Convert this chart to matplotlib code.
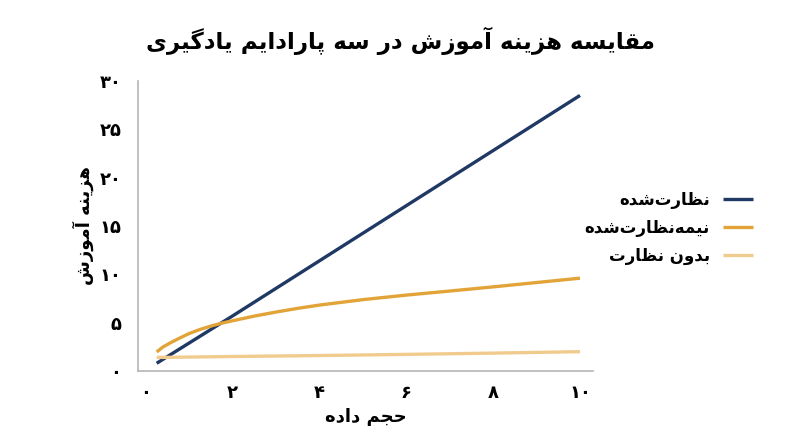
import matplotlib
matplotlib.use("Agg")
import matplotlib.pyplot as plt

# متن‌های نمودار
titulo = "مقایسه هزینه آموزش در سه پارادایم یادگیری"
etiqueta_x = "حجم داده"
etiqueta_y = "هزینه آموزش"
series_nombres = ["نظارت‌شده", "نیمه‌نظارت‌شده", "بدون نظارت"]

ticks_x = [0, 2, 4, 6, 8, 10]
ticks_x_lbl = ["۰", "۲", "۴", "۶", "۸", "۱۰"]
ticks_y = [0, 5, 10, 15, 20, 25, 30]
ticks_y_lbl = ["۰", "۵", "۱۰", "۱۵", "۲۰", "۲۵", "۳۰"]

# valores
x_sup = [0.25, 2, 4, 6, 8, 10]
y_sup = [0.8, 5.7, 11.4, 17.1, 22.8, 28.5]

x_semi = [0.25, 0.4, 0.6, 0.8, 1.0, 1.25, 1.5, 1.75, 2.0, 2.5, 3.0, 3.5, 4.0, 5.0, 6.0, 7.0, 8.0, 9.0, 10.0]
y_semi = [1.97, 2.5, 3.0, 3.45, 3.88, 4.3, 4.65, 4.95, 5.2, 5.68, 6.1, 6.48, 6.82, 7.38, 7.85, 8.27, 8.7, 9.15, 9.6]

x_nosup = [0.25, 2, 4, 6, 8, 10]
y_nosup = [1.4, 1.5, 1.6, 1.72, 1.85, 2.0]

colores = ["#1F3864", "#E2A438", "#F1CB8E"]

# formas de presentación árabes: aislada, final, inicial, media
FORMAS = {
    "\u0627": ("\uFE8D", "\uFE8E", None, None),
    "\u0622": ("\uFE81", "\uFE82", None, None),
    "\u0628": ("\uFE8F", "\uFE90", "\uFE91", "\uFE92"),
    "\u062A": ("\uFE95", "\uFE96", "\uFE97", "\uFE98"),
    "\u062C": ("\uFE9D", "\uFE9E", "\uFE9F", "\uFEA0"),
    "\u062D": ("\uFEA1", "\uFEA2", "\uFEA3", "\uFEA4"),
    "\u062F": ("\uFEA9", "\uFEAA", None, None),
    "\u0631": ("\uFEAD", "\uFEAE", None, None),
    "\u0632": ("\uFEAF", "\uFEB0", None, None),
    "\u0633": ("\uFEB1", "\uFEB2", "\uFEB3", "\uFEB4"),
    "\u0634": ("\uFEB5", "\uFEB6", "\uFEB7", "\uFEB8"),
    "\u0638": ("\uFEC5", "\uFEC6", "\uFEC7", "\uFEC8"),
    "\u0642": ("\uFED5", "\uFED6", "\uFED7", "\uFED8"),
    "\u0645": ("\uFEE1", "\uFEE2", "\uFEE3", "\uFEE4"),
    "\u0646": ("\uFEE5", "\uFEE6", "\uFEE7", "\uFEE8"),
    "\u0647": ("\uFEE9", "\uFEEA", "\uFEEB", "\uFEEC"),
    "\u0648": ("\uFEED", "\uFEEE", None, None),
    "\u06CC": ("\uFBFC", "\uFBFD", "\uFBFE", "\uFBFF"),
    "\u067E": ("\uFB56", "\uFB57", "\uFB58", "\uFB59"),
    "\u06AF": ("\uFB92", "\uFB93", "\uFB94", "\uFB95"),
}


def rtl(texto):
    # une las letras y devuelve el texto en orden visual
    salida = []
    for i, c in enumerate(texto):
        if c not in FORMAS:
            if c != "\u200C":
                salida.append(c)
            continue
        prev = texto[i - 1] if i > 0 else ""
        nxt = texto[i + 1] if i + 1 < len(texto) else ""
        une_prev = prev in FORMAS and FORMAS[prev][2] is not None
        une_next = nxt in FORMAS and FORMAS[c][2] is not None
        aisl, fin, ini, med = FORMAS[c]
        if une_prev and une_next:
            salida.append(med)
        elif une_prev:
            salida.append(fin)
        elif une_next:
            salida.append(ini)
        else:
            salida.append(aisl)
    return "".join(salida)[::-1]


plt.rcParams["font.family"] = ["DejaVu Sans"]

fig = plt.figure(figsize=(8, 4.47), dpi=100)
ax = fig.add_axes([0.1725, 0.170, 0.5688, 0.649])

series = [(x_sup, y_sup), (x_semi, y_semi), (x_nosup, y_nosup)]
for (xs, ys), nombre, col in zip(series, series_nombres, colores):
    ax.plot(xs, ys, color=col, lw=2.4, label=rtl(nombre), solid_capstyle="butt")

ax.set_xlim(-0.18, 10.3)
ax.set_ylim(0, 30)
ax.set_xticks(ticks_x)
ax.set_xticklabels(ticks_x_lbl, fontsize=13, fontweight="bold")
ax.set_yticks(ticks_y)
ax.set_yticklabels(ticks_y_lbl, fontsize=13, fontweight="bold")
ax.tick_params(length=0)
ax.tick_params(axis="x", pad=9)
ax.tick_params(axis="y", pad=12)

for lado in ["top", "right"]:
    ax.spines[lado].set_visible(False)
for lado in ["left", "bottom"]:
    ax.spines[lado].set_color("#B5B5B5")
    ax.spines[lado].set_linewidth(1.2)

ax.set_xlabel(rtl(etiqueta_x), fontsize=13, fontweight="bold", labelpad=5)
ax.set_ylabel(rtl(etiqueta_y), fontsize=13, fontweight="bold", labelpad=4)

fig.text(0.5, 0.908, rtl(titulo), ha="center", va="center", fontsize=16.5, fontweight="bold")

leg = fig.legend(loc="center right", bbox_to_anchor=(0.96, 0.49), frameon=False,
                 markerfirst=False, handlelength=1.8, labelspacing=0.6,
                 handletextpad=0.8, prop={"weight": "bold", "size": 12})

fig.savefig("out.png", dpi=100)
